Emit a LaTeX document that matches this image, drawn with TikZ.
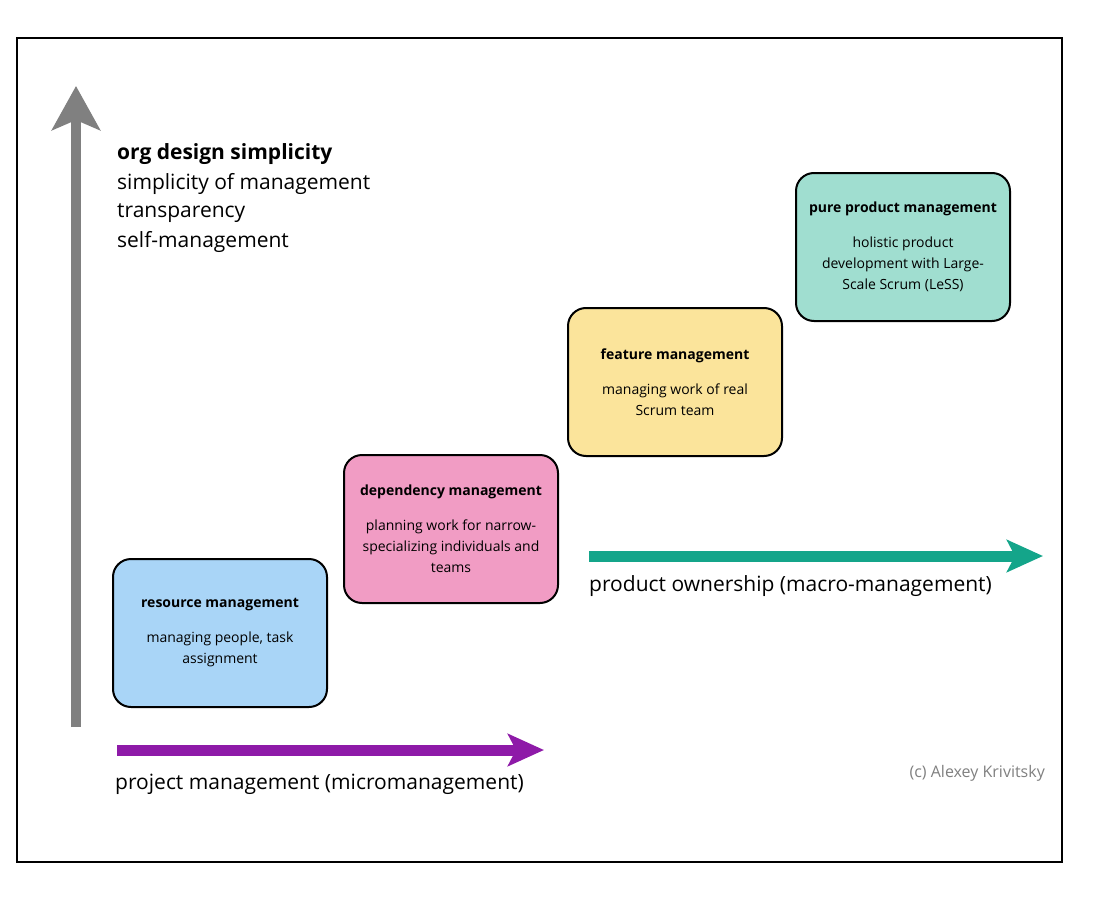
\documentclass[tikz,border=0pt]{standalone}
\usepackage{fontspec}
\setmainfont{Open Sans}
\usetikzlibrary{arrows.meta}
\definecolor{bluef}{HTML}{A9D5F7}
\definecolor{pinkf}{HTML}{F19CC4}
\definecolor{yelf}{HTML}{FBE49B}
\definecolor{tealf}{HTML}{A0DED0}
\definecolor{purp}{HTML}{8E1AA8}
\definecolor{teala}{HTML}{14A58A}
\definecolor{grayA}{HTML}{808080}
\begin{document}
\begin{tikzpicture}[x=1pt,y=-1pt,
  box/.style={draw=black,line width=2pt,rounded corners=18pt,minimum width=214pt,minimum height=148pt,anchor=north west,align=center,font=\fontsize{14}{21}\selectfont},
  big/.style={font=\fontsize{21}{29}\selectfont,anchor=west,inner sep=0pt},
  arr/.style={line width=11pt,-{Stealth[width=32pt,length=36pt,inset=8pt]}}]
\useasboundingbox (0,0) rectangle (1100,915);
\fill[white] (0,0) rectangle (1100,915);
\draw[line width=1.6pt] (17,38) rectangle (1062,862);
\coordinate (g0) at (76,727); \coordinate (g1) at (76,86);
\draw[arr,grayA,line width=10pt,-{Stealth[width=48pt,length=44pt,inset=10pt]}] (g0) -- (g1);
\coordinate (p0) at (117,750); \coordinate (p1) at (544,750);
\draw[arr,purp] (p0) -- (p1);
\coordinate (t0) at (589,556); \coordinate (t1) at (1043,556);
\draw[arr,teala] (t0) -- (t1);
\node[big] (h1) at (117,154) {\textbf{org design simplicity}};
\node[big] (h2) at (117,184) {simplicity of management};
\node[big] (h3) at (117,213) {transparency};
\node[big] (h4) at (117,242) {self-management};
\node[box,fill=bluef] (b1) at (112,558) {\textbf{resource management}\\[14pt]managing people, task\\assignment};
\node[box,fill=pinkf] (b2) at (343,454) {\textbf{dependency management}\\[14pt]planning work for narrow-\\specializing individuals and\\teams};
\node[box,fill=yelf] (b3) at (567,307) {\textbf{feature management}\\[14pt]managing work of real\\Scrum team};
\node[box,fill=tealf] (b4) at (795,172) {\textbf{pure product management}\\[14pt]holistic product\\development with Large-\\Scale Scrum (LeSS)};
\node[big] (l1) at (115,784) {project management (micromanagement)};
\node[big] (l2) at (589,586) {product ownership (macro-management)};
\node[font=\fontsize{16}{20}\selectfont,text=grayA,anchor=east,inner sep=0pt] (c) at (1045,773) {(c) Alexey Krivitsky};
\end{tikzpicture}
\end{document}
